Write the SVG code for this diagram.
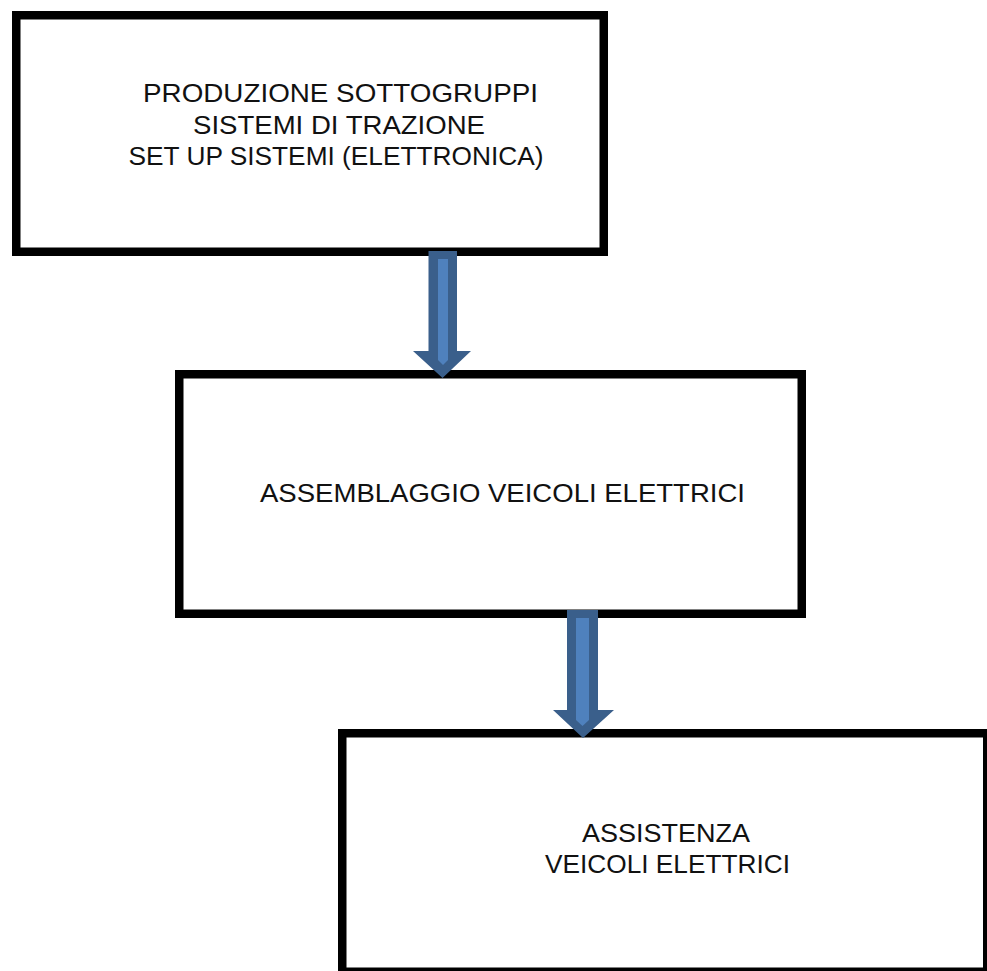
<svg xmlns="http://www.w3.org/2000/svg" width="987" height="971" viewBox="0 0 987 971">
<style>
.box{fill:#ffffff;stroke:#000000;stroke-width:8.5}
.lbl{font-family:"Liberation Sans",Arial,sans-serif;font-size:26.5px;fill:#111111;text-anchor:middle}
.aout{fill:#3A5F8B}
.ain{fill:#4F81BD}
</style>
<rect width="987" height="971" fill="#ffffff"/>
<g id="node1">
<rect class="box" x="16.25" y="15.25" width="587.5" height="236.5"/>
<text class="lbl" x="340.5" y="102" textLength="395" lengthAdjust="spacingAndGlyphs">PRODUZIONE SOTTOGRUPPI</text>
<text class="lbl" x="339" y="134" textLength="292" lengthAdjust="spacingAndGlyphs">SISTEMI DI TRAZIONE</text>
<text class="lbl" x="336" y="165" textLength="415" lengthAdjust="spacingAndGlyphs">SET UP SISTEMI (ELETTRONICA)</text>
</g>
<g id="node2">
<rect class="box" x="179.25" y="374.25" width="622.5" height="239.5"/>
<text class="lbl" x="502.5" y="502" textLength="485" lengthAdjust="spacingAndGlyphs">ASSEMBLAGGIO VEICOLI ELETTRICI</text>
</g>
<g id="node3">
<rect class="box" x="342.25" y="733.25" width="645" height="238.5"/>
<text class="lbl" x="666" y="842" textLength="168" lengthAdjust="spacingAndGlyphs">ASSISTENZA</text>
<text class="lbl" x="667.5" y="873" textLength="245" lengthAdjust="spacingAndGlyphs">VEICOLI ELETTRICI</text>
</g>
<g id="connectors">
<g id="arrow1">
<polygon class="aout" points="428.5,251 457,251 457,351 471,351 442.5,378 413,351 428.5,351"/>
<polygon class="ain" points="438,259 448,259 448,360 443,365 438,360"/>
</g>
<g id="arrow2">
<polygon class="aout" points="567,610 598,610 598,710 614,710 583,738 553,710 567,710"/>
<polygon class="ain" points="576,618 589,618 589,720 582.5,726 576,720"/>
</g>
</g>
</svg>
